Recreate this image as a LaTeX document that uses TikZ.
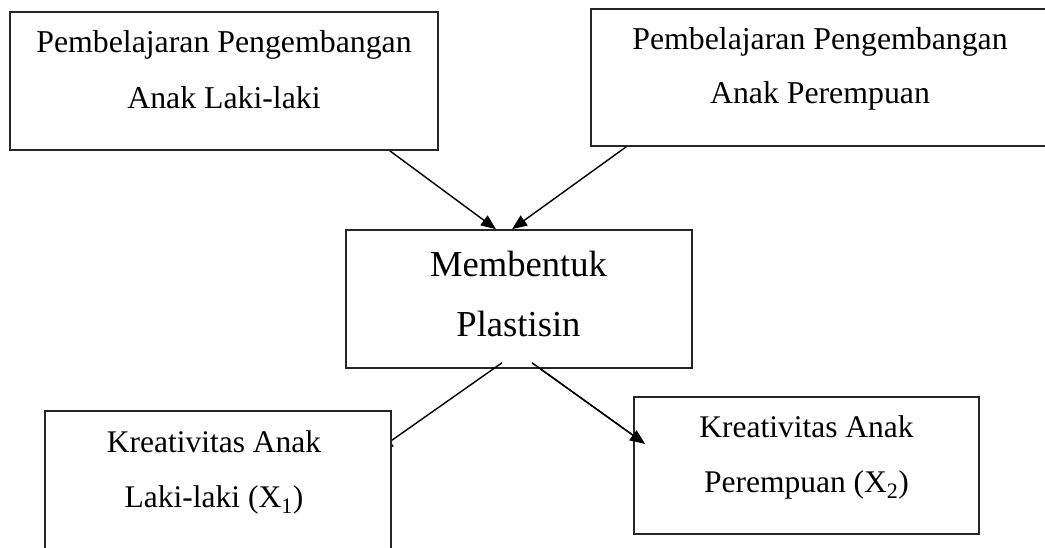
\documentclass[tikz,border=0pt]{standalone}
\usepackage{fontspec}
\setmainfont{Liberation Serif}
\usetikzlibrary{arrows.meta,backgrounds}
\tikzset{
  box/.style={draw=black!85, line width=1.6pt, fill=white, rectangle, inner sep=0pt},
  txt/.style={align=center, inner sep=0pt},
  arr/.style={line width=1.4pt, -{Triangle[length=15pt,width=12pt]}},
}
\begin{document}
\begin{tikzpicture}[x=1pt,y=-1pt]
\useasboundingbox (0,0) rectangle (1045,547);
\clip (0,0) rectangle (1045,547);
% boxes (x: left..right, y: top..bottom in image pixels)
\node[box, minimum width=428pt, minimum height=138pt] (b1) at (224,81) {};
\node[box, minimum width=480pt, minimum height=137pt] (b2) at (831,77.5) {};
\node[box, minimum width=346pt, minimum height=138pt] (m) at (519,299) {};
\node[box, minimum width=345pt, minimum height=137pt] (b5) at (806.5,465.5) {};
% connectors behind boxes
\begin{scope}[on background layer]
\draw[arr] ([xshift=-49pt]b1.south east) -- ([xshift=-23pt]m.north);
\draw[arr] ([xshift=36pt]b2.south west) -- ([xshift=-7pt]m.north);
\draw[arr] ([xshift=13pt,yshift=6pt]m.south) -- ([xshift=12pt,yshift=21.5pt]b5.west);
\end{scope}
\coordinate (hid) at (378,450);
\draw[arr] ([xshift=-17pt,yshift=6pt]m.south) -- (hid);
\node[box, minimum width=346pt, minimum height=170pt] (b4) at (218,496) {};
\draw[arr] ([xshift=13pt,yshift=6pt]m.south) -- ([xshift=12pt,yshift=21.5pt]b5.west);
% texts
\node[txt, font=\fontsize{31.8}{55.5}\selectfont] (t1) at (224,69.4)
  {Pembelajaran Pengembangan\\Anak Laki-laki};
\node[txt, font=\fontsize{31.8}{54.2}\selectfont] (t2) at (820,69)
  {Pembelajaran Pengembangan\\Anak Perempuan};
\node[txt, font=\fontsize{36.6}{60.5}\selectfont] (tm) at (518.5,294.2)
  {Membentuk\\Plastisin};
\node[txt, font=\fontsize{31.5}{55}\selectfont] (t4) at (214,472.6)
  {Kreativitas Anak\\Laki-laki (X\textsubscript{1})};
\node[txt, font=\fontsize{31.5}{55}\selectfont] (t5) at (806.5,457.2)
  {Kreativitas Anak\\Perempuan (X\textsubscript{2})};
\end{tikzpicture}
\end{document}
